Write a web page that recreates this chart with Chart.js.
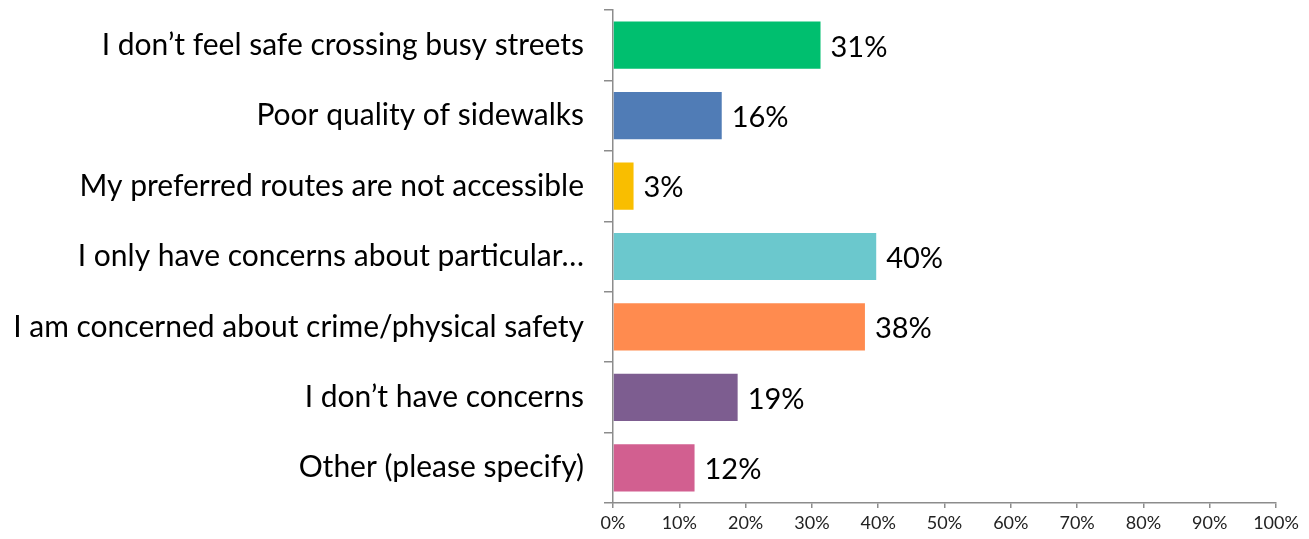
<!DOCTYPE html>
<html>
<head>
<meta charset="utf-8">
<script src="https://cdn.jsdelivr.net/npm/chart.js@4"></script>
<style>
  html, body { margin: 0; padding: 0; background: #fff; }
  #wrap { width: 1309px; height: 539px; }
</style>
</head>
<body>
<div id="wrap"><canvas id="chart" width="1309" height="539"></canvas></div>
<script>
const categories = [
  'I don\u2019t feel safe crossing busy streets',
  'Poor quality of sidewalks',
  'My preferred routes are not accessible',
  'I only have concerns about particular\u2026',
  'I am concerned about crime/physical safety',
  'I don\u2019t have concerns',
  'Other (please specify)'
];
const values = [31.3, 16.4, 3.1, 39.7, 38.0, 18.8, 12.3];
const valueLabels = ['31%', '16%', '3%', '40%', '38%', '19%', '12%'];
const barColors = ['#00bf6f', '#507cb6', '#f9be00', '#6bc8cd', '#ff8b4f', '#7d5d90', '#d25f90'];
const xTicks = [0, 10, 20, 30, 40, 50, 60, 70, 80, 90, 100];

const fontFamily = 'Lato, "Open Sans", sans-serif';

const valueLabelPlugin = {
  id: 'valueLabels',
  afterDatasetsDraw(chart) {
    const { ctx } = chart;
    const meta = chart.getDatasetMeta(0);
    ctx.save();
    ctx.font = `29px ${fontFamily}`;
    ctx.fillStyle = '#000';
    ctx.textAlign = 'left';
    ctx.textBaseline = 'middle';
    meta.data.forEach((bar, i) => {
      ctx.fillText(valueLabels[i], bar.x + 10, bar.y + 2);
    });
    ctx.restore();
  }
};

new Chart(document.querySelector('#chart'), {
  type: 'bar',
  data: {
    labels: categories,
    datasets: [{
      data: values,
      backgroundColor: barColors,
      borderWidth: 0,
      barPercentage: 0.67,
      categoryPercentage: 1
    }]
  },
  options: {
    indexAxis: 'y',
    responsive: false,
    animation: false,
    layout: { padding: { top: 10, right: 33, left: 0, bottom: 0 } },
    plugins: {
      legend: { display: false },
      tooltip: { enabled: false }
    },
    scales: {
      x: {
        min: 0,
        max: 100,
        afterBuildTicks: (scale) => {
          scale.ticks = xTicks.map((v) => ({ value: v }));
        },
        afterFit: (scale) => {
          scale.height = 36;
          scale.paddingLeft = 0;
          scale.paddingRight = 0;
        },
        grid: {
          drawOnChartArea: false,
          drawTicks: true,
          tickLength: 5,
          color: '#8c8c8c',
          lineWidth: 1.5
        },
        border: { color: '#8c8c8c', width: 1.5 },
        ticks: {
          color: '#222',
          padding: 4,
          maxRotation: 0,
          font: { family: fontFamily, size: 18 },
          callback: (v) => v + '%'
        }
      },
      y: {
        afterFit: (scale) => {
          scale.width = 613;
          scale.paddingTop = 0;
          scale.paddingBottom = 0;
        },
        grid: {
          drawOnChartArea: false,
          drawTicks: true,
          tickLength: 9,
          color: '#8c8c8c',
          lineWidth: 1.5
        },
        border: { color: '#8c8c8c', width: 1.5 },
        ticks: {
          color: '#000',
          padding: 20,
          font: { family: fontFamily, size: 30 }
        }
      }
    }
  },
  plugins: [valueLabelPlugin]
});
</script>
</body>
</html>
